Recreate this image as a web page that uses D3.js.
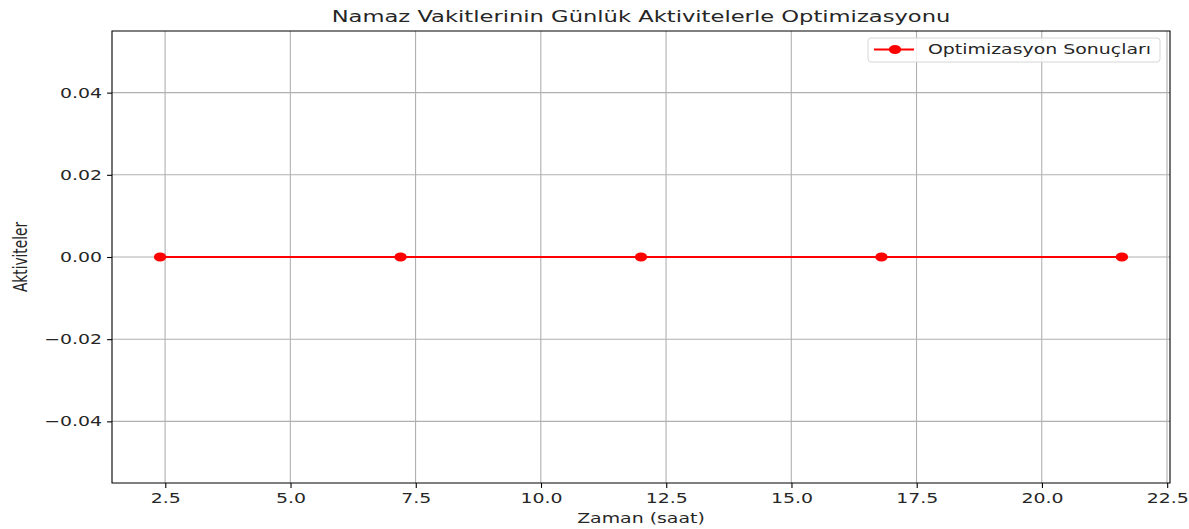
<!DOCTYPE html>
<html><head><meta charset="utf-8">
<script src="https://cdn.jsdelivr.net/npm/d3@7"></script>
<style>html,body{margin:0;padding:0;background:#fff;overflow:hidden}</style>
</head><body>
<svg id="chart"></svg>
<script>
const hours = [2.4, 7.2, 12.0, 16.8, 21.6];
const activities = [0, 0, 0, 0, 0];
const xTicks = [2.5, 5.0, 7.5, 10.0, 12.5, 15.0, 17.5, 20.0, 22.5];
const yTicks = [-0.04, -0.02, 0.00, 0.02, 0.04];
const titleText = "Namaz Vakitlerinin Günlük Aktivitelerle Optimizasyonu";
const xLabel = "Zaman (saat)";
const yLabel = "Aktiviteler";
const seriesName = "Optimizasyon Sonuçları";

const W = 1189, H = 529, S = 1.38, VBW = W / S;
const px = v => v / S;
const font = "'DejaVu Sans', sans-serif";
const FS = 13.7, TFS = 16.4;
const svg = d3.select("#chart").attr("width", W).attr("height", H)
  .attr("viewBox", `0 0 ${VBW} ${H}`).attr("preserveAspectRatio", "none");

const L = 112, R = 1170, T = 31, B = 483;
const x = d3.scaleLinear().domain([1.44, 22.56]).range([px(L), px(R)]);
const y = d3.scaleLinear().domain([-0.055, 0.055]).range([B, T]);

// grid
const g = svg.append("g");
g.selectAll("line.gx").data(xTicks).join("line")
  .attr("x1", d => x(d)).attr("x2", d => x(d)).attr("y1", T).attr("y2", B)
  .attr("stroke", "#b0b0b0").attr("stroke-width", 1.1 / S);
g.selectAll("line.gy").data(yTicks).join("line")
  .attr("x1", px(L)).attr("x2", px(R)).attr("y1", d => y(d)).attr("y2", d => y(d))
  .attr("stroke", "#b0b0b0").attr("stroke-width", 1.1);

// axes
const fmtY = d => (d < 0 ? "\u2212" : "") + Math.abs(d).toFixed(2);
const xAxis = svg.append("g").attr("transform", `translate(0,${B})`)
  .call(d3.axisBottom(x).tickValues(xTicks).tickFormat(d3.format(".1f")).tickSize(4.9).tickPadding(5));
const yAxis = svg.append("g").attr("transform", `translate(${px(L)},0)`)
  .call(d3.axisLeft(y).tickValues(yTicks).tickFormat(fmtY).tickSize(4.9 / S).tickPadding(5 / S));
[xAxis, yAxis].forEach(a => {
  a.select(".domain").remove();
  a.selectAll("text").attr("font-family", font).attr("font-size", FS).attr("fill", "#262626");
  a.selectAll("line").attr("stroke", "#000");
});
xAxis.selectAll("line").attr("stroke-width", 1.1 / S);
yAxis.selectAll("line").attr("stroke-width", 1.1);

// frame
svg.append("rect").attr("x", px(L)).attr("y", T).attr("width", px(R) - px(L)).attr("height", B - T)
  .attr("fill", "none").attr("stroke", "#000").attr("stroke-width", 1.1).attr("vector-effect", "non-scaling-stroke");

// series
const line = d3.line().x((d, i) => x(hours[i])).y(d => y(d));
svg.append("path").datum(activities).attr("d", line)
  .attr("fill", "none").attr("stroke", "red").attr("stroke-width", 2.1);
svg.selectAll("circle.pt").data(activities).join("circle")
  .attr("cx", (d, i) => x(hours[i])).attr("cy", d => y(d)).attr("r", 4.5).attr("fill", "red");

// title & labels
svg.append("text").attr("x", (px(L) + px(R)) / 2).attr("y", 22.5).attr("text-anchor", "middle")
  .attr("font-family", font).attr("font-size", TFS).attr("fill", "#262626").text(titleText);
svg.append("text").attr("x", (px(L) + px(R)) / 2).attr("y", 523).attr("text-anchor", "middle")
  .attr("font-family", font).attr("font-size", FS).attr("fill", "#262626").text(xLabel);
svg.append("text").attr("transform", `translate(${px(27)},257) rotate(-90)`).attr("text-anchor", "middle")
  .attr("font-family", font).attr("font-size", FS).attr("fill", "#262626").text(yLabel);

// legend
const lg = svg.append("g");
lg.append("rect").attr("x", px(868)).attr("y", 38).attr("width", px(1160) - px(868)).attr("height", 24)
  .attr("rx", 3 / S).attr("ry", 3).attr("fill", "#fff").attr("fill-opacity", 0.8)
  .attr("stroke", "#d6d6d6").attr("stroke-width", 1).attr("vector-effect", "non-scaling-stroke");
lg.append("line").attr("x1", px(874)).attr("x2", px(914)).attr("y1", 49.5).attr("y2", 49.5)
  .attr("stroke", "red").attr("stroke-width", 2.1);
lg.append("circle").attr("cx", px(895)).attr("cy", 49.5).attr("r", 4.5).attr("fill", "red");
lg.append("text").attr("x", px(928)).attr("y", 54.5).attr("font-family", font).attr("font-size", FS)
  .attr("fill", "#262626").text(seriesName);
</script>
</body></html>
